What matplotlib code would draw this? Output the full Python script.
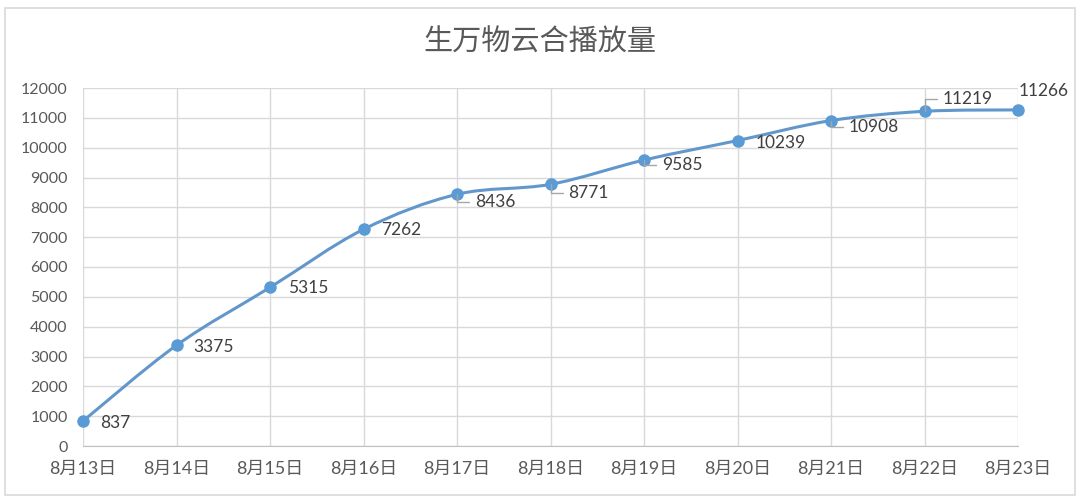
import matplotlib
matplotlib.use("Agg")
import matplotlib.pyplot as plt
from matplotlib.path import Path
from matplotlib.patches import PathPatch, Rectangle

plt.rcParams['font.family'] = ['Lato', 'Noto Sans CJK SC', 'DejaVu Sans']

dates = ["8月13日", "8月14日", "8月15日", "8月16日", "8月17日", "8月18日",
         "8月19日", "8月20日", "8月21日", "8月22日", "8月23日"]
views = [837, 3375, 5315, 7262, 8436, 8771, 9585, 10239, 10908, 11219, 11266]
# label offsets (pixels) and whether a leader line is drawn
label_dx = [17, 17, 18, 18, 18, 18, 18, 18, 18, 18, 1]
label_dy = [-2, -2, -1, -1, -8, -9, -5, -2, -6, 12, 19]
leader = [False, False, False, False, True, True, True, False, True, True, False]

W, H = 1080, 503
fig = plt.figure(figsize=(W / 100, H / 100), dpi=100)
fig.patches.append(Rectangle((5 / W, 8 / H), 1070 / W, 487 / H, transform=fig.transFigure,
                             fill=False, edgecolor="#d9d9d9", linewidth=1.2))

ax = fig.add_axes([83 / W, (H - 446) / H, (1018 - 83) / W, (446 - 88) / H])
ax.set_xlim(0, len(dates) - 1)
ax.set_ylim(0, 12000)
ax.set_yticks(range(0, 12001, 1000))
ax.set_xticks(range(len(dates)))
ax.set_xticklabels(dates)
ax.grid(True, color="#d9d9d9", linewidth=1)
ax.set_axisbelow(True)
for s in ["top", "right", "left"]:
    ax.spines[s].set_visible(False)
ax.spines["bottom"].set_color("#bfbfbf")
ax.tick_params(length=0, labelsize=11.5, colors="#595959")
ax.tick_params(axis="y", pad=11)
ax.tick_params(axis="x", pad=11, labelsize=13)

# smoothed line (Catmull-Rom style bezier like Excel's smooth line)
xs = list(range(len(views)))
pts = list(zip(xs, views))
verts = [pts[0]]
codes = [Path.MOVETO]
n = len(pts)
for i in range(n - 1):
    p0 = pts[i - 1] if i > 0 else pts[i]
    p1 = pts[i]
    p2 = pts[i + 1]
    p3 = pts[i + 2] if i + 2 < n else pts[i + 1]
    c1 = (p1[0] + (p2[0] - p0[0]) / 6, p1[1] + (p2[1] - p0[1]) / 6)
    c2 = (p2[0] - (p3[0] - p1[0]) / 6, p2[1] - (p3[1] - p1[1]) / 6)
    verts += [c1, c2, p2]
    codes += [Path.CURVE4] * 3
ax.add_patch(PathPatch(Path(verts, codes), fill=False, edgecolor="#6297cc", linewidth=2.2, zorder=3))
ax.plot(xs, views, linestyle="none", marker="o", markersize=8,
        color="#5b9bd5", zorder=4, clip_on=False)

for x, v, dx, dy, ld in zip(xs, views, label_dx, label_dy, leader):
    kw = {}
    if ld:
        kw["arrowprops"] = dict(arrowstyle="-", color="#a6a6a6", lw=1,
                                connectionstyle="angle,angleA=0,angleB=90,rad=0",
                                shrinkA=2, shrinkB=0)
    ax.annotate(str(v), (x, v), xytext=(dx, dy), textcoords="offset pixels",
                ha="left", va="center", fontsize=12.5, color="#404040",
                annotation_clip=False, zorder=5, **kw)

fig.text(540 / W, 1 - 42 / H, "生万物云合播放量", ha="center", va="center",
         fontsize=21, color="#595959")

fig.savefig("out.png", dpi=100, facecolor="white")
